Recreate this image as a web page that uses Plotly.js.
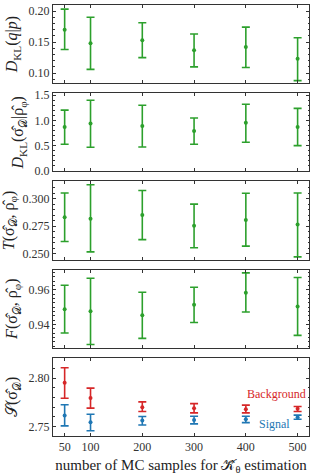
<!DOCTYPE html>
<html>
<head>
<meta charset="utf-8">
<script src="https://cdn.plot.ly/plotly-3.0.1.min.js"></script>
<style>html,body{margin:0;padding:0;background:#fff;}#chart{width:317px;height:476px;}</style>
</head>
<body>
<div id="chart"></div>
<script>
const samples = [50, 100, 200, 300, 400, 500];

const dklQP = [0.170, 0.148, 0.153, 0.137, 0.142, 0.123];
const dklQPPlus = [0.033, 0.042, 0.028, 0.026, 0.032, 0.034];
const dklQPMinus = [0.032, 0.042, 0.028, 0.027, 0.033, 0.035];

const dklSR = [0.87, 0.937, 0.89, 0.786, 0.95, 0.87];
const dklSRPlus = [0.334, 0.463, 0.41, 0.261, 0.37, 0.368];
const dklSRMinus = [0.346, 0.471, 0.42, 0.262, 0.386, 0.373];

const tSR = [0.2831, 0.2819, 0.2853, 0.2754, 0.2807, 0.2767];
const tSRPlus = [0.0221, 0.0307, 0.0221, 0.0197, 0.0242, 0.0285];
const tSRMinus = [0.0219, 0.0301, 0.0224, 0.0199, 0.0237, 0.0295];

const fSR = [0.9488, 0.9477, 0.9454, 0.9515, 0.9583, 0.9504];
const fSRPlus = [0.0139, 0.0190, 0.0132, 0.0100, 0.0115, 0.0167];
const fSRMinus = [0.0136, 0.0191, 0.0133, 0.0103, 0.0110, 0.0166];

const sBkg = [2.7951, 2.7796, 2.7700, 2.7690, 2.7680, 2.7683];
const sBkgPlus = [0.0155, 0.0101, 0.0055, 0.0047, 0.0041, 0.0024];
const sBkgMinus = [0.0158, 0.0106, 0.0045, 0.0048, 0.0038, 0.0028];

const sSig = [2.7614, 2.7546, 2.7563, 2.7569, 2.7576, 2.7597];
const sSigPlus = [0.0111, 0.0082, 0.0041, 0.0038, 0.0031, 0.0021];
const sSigMinus = [0.0107, 0.0089, 0.0046, 0.0041, 0.0035, 0.0021];

const xTickVals = [50, 100, 200, 300, 400, 500];
const xTickText = ['50', '100', '200', '300', '400', '500'];

const green = '#2ca02c', red = '#d62728', blue = '#1f77b4';
const FONT = '"Liberation Serif", "DejaVu Serif", serif';

function tr(y, plus, minus, color, yax, xax) {
  return {
    x: samples, y: y, type: 'scatter', mode: 'markers',
    xaxis: xax, yaxis: yax,
    marker: {color: color, size: 4, symbol: 'circle'},
    error_y: {type: 'data', array: plus, arrayminus: minus, visible: true,
              color: color, thickness: 1.6, width: 4},
    showlegend: false, hoverinfo: 'skip'
  };
}

const data = [
  tr(dklQP, dklQPPlus, dklQPMinus, green, 'y', 'x'),
  tr(dklSR, dklSRPlus, dklSRMinus, green, 'y2', 'x2'),
  tr(tSR, tSRPlus, tSRMinus, green, 'y3', 'x3'),
  tr(fSR, fSRPlus, fSRMinus, green, 'y4', 'x4'),
  tr(sBkg, sBkgPlus, sBkgMinus, red, 'y5', 'x5'),
  tr(sSig, sSigPlus, sSigMinus, blue, 'y5', 'x5')
];

const h = 0.1814, gap = 0.0232;
function dom(i) { // i=0 top
  const top = 1 - i * (h + gap);
  return [Math.max(0, top - h), top];
}

function xax(anchor, showLabels) {
  return {
    domain: [0, 1], anchor: anchor, range: [27.5, 522],
    tickvals: xTickVals, ticktext: xTickText, showticklabels: showLabels,
    ticks: 'inside', ticklen: 3, tickwidth: 1, tickcolor: '#333',
    showline: true, linecolor: '#333', linewidth: 1, mirror: 'ticks',
    showgrid: false, zeroline: false,
    tickfont: {family: FONT, size: 12, color: '#333'}
  };
}
function yax(anchor, d, range, tickvals, ticktext, minorDt, title) {
  return {
    domain: d, anchor: anchor, range: range,
    tickvals: tickvals, ticktext: ticktext,
    ticks: 'inside', ticklen: 3, tickwidth: 1, tickcolor: '#333',
    minor: {dtick: minorDt, ticks: 'inside', ticklen: 1.5, tickcolor: '#333', showgrid: false},
    showline: true, linecolor: '#333', linewidth: 1, mirror: 'ticks',
    showgrid: false, zeroline: false,
    tickfont: {family: FONT, size: 12, color: '#333'},
    title: {text: title, font: {family: FONT, size: 16, color: '#222'}, standoff: 6}
  };
}

const layout = {
  width: 317, height: 476,
  margin: {l: 53, r: 8, t: 5, b: 40},
  paper_bgcolor: '#fff', plot_bgcolor: '#fff',
  font: {family: FONT, color: '#333'},
  xaxis: xax('y', false),
  xaxis2: Object.assign(xax('y2', false), {matches: 'x'}),
  xaxis3: Object.assign(xax('y3', false), {matches: 'x'}),
  xaxis4: Object.assign(xax('y4', false), {matches: 'x'}),
  xaxis5: Object.assign(xax('y5', true), {matches: 'x',
    title: {text: 'number of MC samples for 𝒦̂<sub>θ</sub> estimation', font: {family: FONT, size: 15, color: '#222'}, standoff: 6}}),
  yaxis: yax('x', dom(0), [0.0838, 0.2097], [0.10, 0.15, 0.20], ['0.10', '0.15', '0.20'], 0.01,
    '<i>D</i><sub>KL</sub>(<i>q</i>|<i>p</i>)'),
  yaxis2: yax('x2', dom(1), [-0.014, 1.54], [0, 0.5, 1.0, 1.5], ['0.0', '0.5', '1.0', '1.5'], 0.1,
    '<i>D</i><sub>KL</sub>(σ̂<sub>𝒟</sub>|ρ̂<sub>φ</sub>)'),
  yaxis3: yax('x3', dom(2), [0.2448, 0.3157], [0.250, 0.275, 0.300], ['0.250', '0.275', '0.300'], 0.005,
    '<i>T</i>(σ̂<sub>𝒟</sub>, ρ̂<sub>φ</sub>)'),
  yaxis4: yax('x4', dom(3), [0.9267, 0.9717], [0.94, 0.96], ['0.94', '0.96'], 0.0025,
    '<i>F</i>(σ̂<sub>𝒟</sub>, ρ̂<sub>φ</sub>)'),
  yaxis5: yax('x5', dom(4), [2.7404, 2.821], [2.75, 2.80], ['2.75', '2.80'], 0.01,
    '𝒮(σ̂<sub>𝒟</sub>)'),
  annotations: [
    {xref: 'x5', yref: 'y5', x: 520, y: 2.7835, text: 'Background', showarrow: false,
     xanchor: 'right', yanchor: 'middle', font: {family: FONT, size: 12, color: red}},
    {xref: 'x5', yref: 'y5', x: 421, y: 2.7525, text: 'Signal', showarrow: false,
     xanchor: 'left', yanchor: 'middle', font: {family: FONT, size: 12, color: blue}}
  ]
};

Plotly.newPlot('chart', data, layout, {displayModeBar: false, staticPlot: true});
</script>
</body>
</html>
